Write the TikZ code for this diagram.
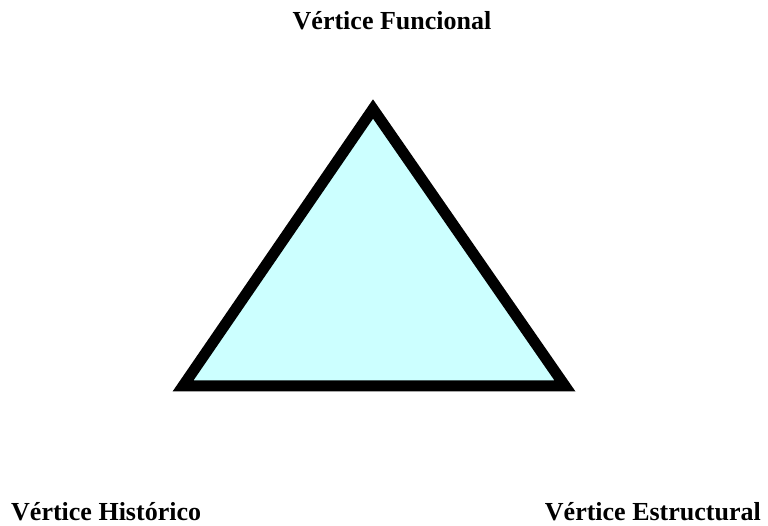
\documentclass[tikz,border=0pt]{standalone}
\usepackage{fontspec}
\setmainfont{Liberation Serif}
\definecolor{tri}{HTML}{CCFFFF}
\tikzset{lbl/.style={font=\fontsize{26}{30}\selectfont\bfseries, inner sep=0pt}}
\begin{document}
\begin{tikzpicture}[x=1pt,y=1pt]
\useasboundingbox (0,0) rectangle (768,526);
\coordinate (A) at (373,417);
\coordinate (B) at (183,140);
\coordinate (C) at (565,140);
\draw[fill=tri, line width=11pt, line join=miter] (A) -- (B) -- (C) -- cycle;
\node[lbl, anchor=base] (f) at (392,496) {Vértice Funcional};
\node[lbl, anchor=base west] (h) at (11,5) {Vértice Histórico};
\node[lbl, anchor=base east] (e) at (761,5) {Vértice Estructural};
\end{tikzpicture}
\end{document}
